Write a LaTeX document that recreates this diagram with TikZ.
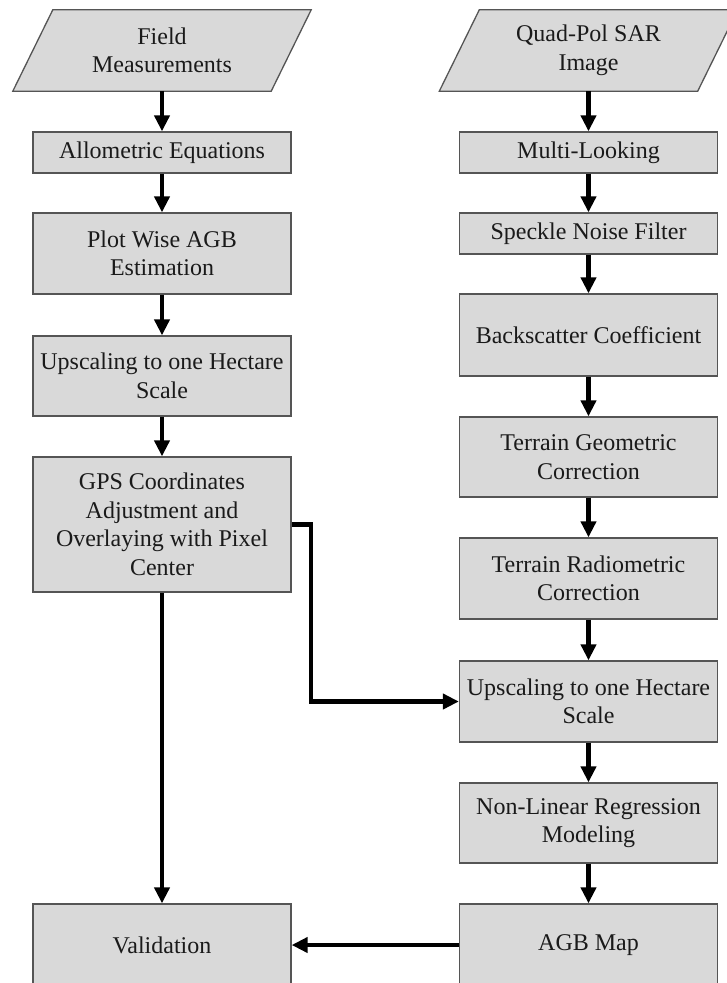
\documentclass[tikz,border=0pt]{standalone}
\usepackage{fontspec}
\setmainfont{Liberation Serif}
\usetikzlibrary{arrows.meta}
\definecolor{boxfill}{HTML}{D9D9D9}
\definecolor{boxline}{HTML}{555555}
\definecolor{txt}{HTML}{1A1A1A}
\begin{document}
\begin{tikzpicture}[x=1pt,y=-1pt,
  box/.style={draw=boxline, fill=boxfill, line width=1.3pt, minimum width=258pt,
    align=center, inner sep=0pt, text=txt, font=\fontsize{24}{28.5}\selectfont},
  para/.style={minimum width=258pt, align=center, inner sep=0pt, text=txt,
    font=\fontsize{24}{28.5}\selectfont},
  parashape/.style={draw=boxline, fill=boxfill, line width=1.3pt},
  arr/.style={line width=4.5pt, draw=black, -{Triangle[length=16pt,width=15pt]}},
  ln/.style={line width=4.5pt, draw=black}
]
\useasboundingbox (0,0) rectangle (726,983);

% left column
\node[para, minimum height=81pt] (field) at (162,50.5) {Field\\Measurements};
\path[parashape] ([xshift=20pt]field.north west) -- ([xshift=20pt]field.north east)
  -- ([xshift=-20pt]field.south east) -- ([xshift=-20pt]field.south west) -- cycle;
\node[para, minimum height=81pt] at (162,50.5) {Field\\Measurements};
\node[box, minimum height=41pt] (allo) at (162,152.5) {Allometric Equations};
\node[box, minimum height=81pt] (plot) at (162,253.5) {Plot Wise AGB\\Estimation};
\node[box, minimum height=80pt] (up1) at (162,376) {Upscaling to one Hectare\\Scale};
\node[box, minimum height=135pt] (gps) at (162,524.5) {GPS Coordinates\\Adjustment and\\Overlaying with Pixel\\Center};
\node[box, minimum height=82pt] (valid) at (162,945) {Validation};

% right column
\node[para, minimum height=81pt] (quad) at (588.5,50.5) {Quad-Pol SAR\\Image};
\path[parashape] ([xshift=20pt]quad.north west) -- ([xshift=20pt]quad.north east)
  -- ([xshift=-20pt]quad.south east) -- ([xshift=-20pt]quad.south west) -- cycle;
\node[para, minimum height=81pt] at (588.5,50.5) {Quad-Pol SAR\\Image};
\node[box, minimum height=41pt] (multi) at (588.5,152.5) {Multi-Looking};
\node[box, minimum height=41pt] (speck) at (588.5,233.5) {Speckle Noise Filter};
\node[box, minimum height=82pt] (back) at (588.5,335) {Backscatter Coefficient};
\node[box, minimum height=80pt] (geo) at (588.5,457) {Terrain Geometric\\Correction};
\node[box, minimum height=81pt] (radio) at (588.5,578.5) {Terrain Radiometric\\Correction};
\node[box, minimum height=81pt] (up2) at (588.5,701.5) {Upscaling to one Hectare\\Scale};
\node[box, minimum height=80pt] (nonlin) at (588.5,823) {Non-Linear Regression\\Modeling};
\node[box, minimum height=82pt] (agb) at (588.5,945) {AGB Map};

% connectors
\draw[arr] (field.south) -- (allo.north);
\draw[arr] (allo.south) -- (plot.north);
\draw[arr] (plot.south) -- (up1.north);
\draw[arr] (up1.south) -- (gps.north);
\draw[arr] (gps.south) -- (valid.north);

\draw[arr] (quad.south) -- (multi.north);
\draw[arr] (multi.south) -- (speck.north);
\draw[arr] (speck.south) -- (back.north);
\draw[arr] (back.south) -- (geo.north);
\draw[arr] (geo.south) -- (radio.north);
\draw[arr] (radio.south) -- (up2.north);
\draw[arr] (up2.south) -- (nonlin.north);
\draw[arr] (nonlin.south) -- (agb.north);
\draw[arr] (agb.west) -- (valid.east);

\coordinate (bend) at (311,524.5);
\draw[arr, rounded corners=0pt] (gps.east) -- (bend) |- (up2.west);
\end{tikzpicture}
\end{document}
